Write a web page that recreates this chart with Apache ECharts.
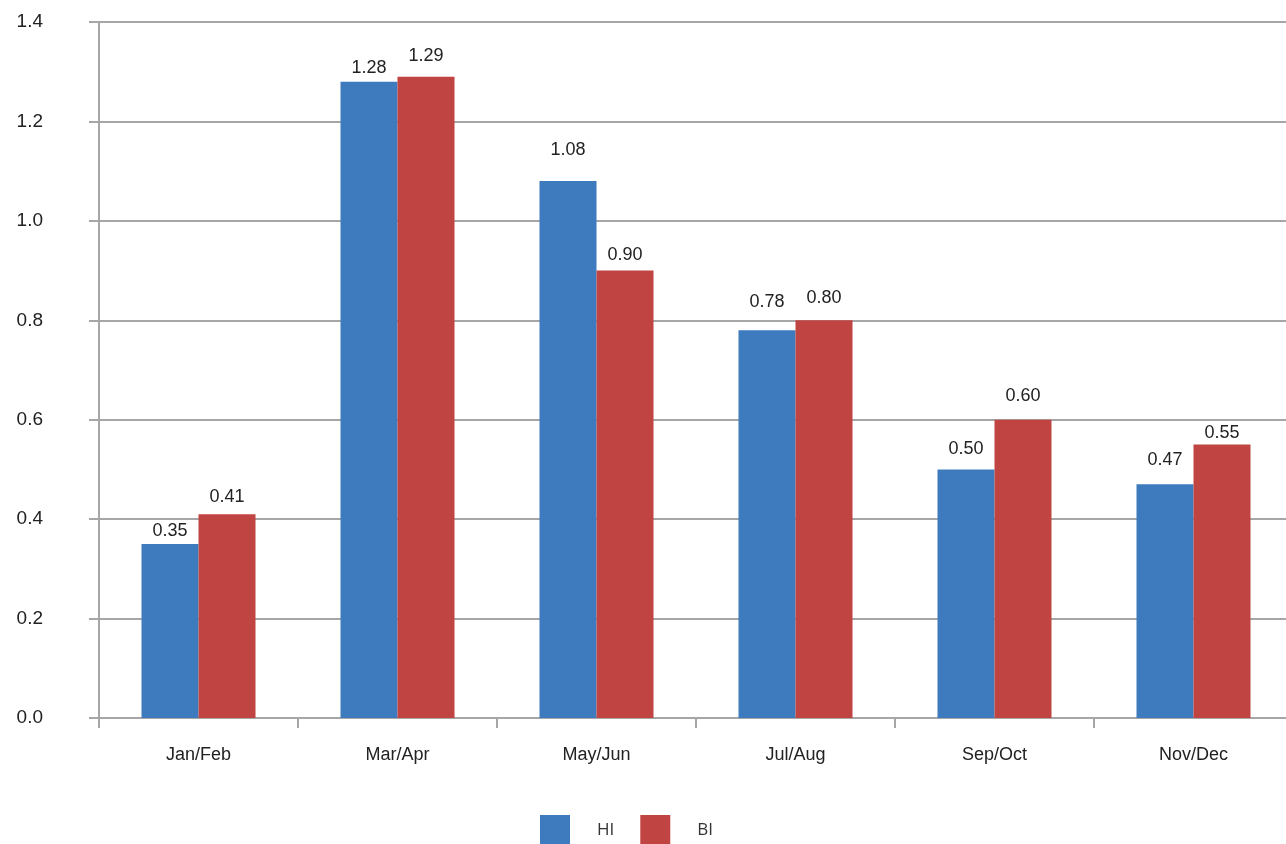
<!DOCTYPE html>
<html>
<head>
<meta charset="utf-8">
<script src="https://cdn.jsdelivr.net/npm/echarts@6/dist/echarts.min.js"></script>
<style>
  html, body { margin: 0; padding: 0; background: #fff; }
  #chart { width: 1286px; height: 844px; }
</style>
</head>
<body>
<div id="chart"></div>
<script>
const categories = ['Jan/Feb', 'Mar/Apr', 'May/Jun', 'Jul/Aug', 'Sep/Oct', 'Nov/Dec']
const hiValues = [0.35, 1.28, 1.08, 0.78, 0.50, 0.47]
const biValues = [0.41, 1.29, 0.90, 0.80, 0.60, 0.55]
// label gap above each bar, as in the picture
const hiLabelGap = [4, 5, 22, 19, 11, 15]
const biLabelGap = [8, 12, 7, 13, 15, 3]

const chart = echarts.init(document.getElementById('chart'))

function withGap(values, gaps) {
  return values.map(function (v, i) {
    return { value: v, label: { distance: gaps[i] } }
  })
}

const barLabel = {
  show: true,
  position: 'top',
  color: '#222',
  fontFamily: 'Liberation Sans',
  fontSize: 18,
  formatter: function (p) { return p.value.toFixed(2) }
}

chart.setOption({
  animation: false,
  textStyle: { fontFamily: 'Liberation Sans' },
  grid: {
    left: 99,
    top: 22,
    right: -7,
    bottom: 126,
    outerBoundsMode: 'none'
  },
  legend: {
    left: 535,
    top: 810,
    icon: 'rect',
    itemWidth: 30,
    itemHeight: 30,
    itemGap: 26,
    textStyle: {
      fontFamily: 'Open Sans',
      fontSize: 17,
      color: '#333',
      padding: [0, 0, 0, 22]
    },
    data: ['HI', 'BI']
  },
  xAxis: {
    type: 'category',
    data: categories,
    axisLine: { lineStyle: { color: '#a6a6a6', width: 2 } },
    axisTick: { show: true, length: 10, lineStyle: { color: '#a6a6a6', width: 2 } },
    axisLabel: { color: '#222', fontSize: 18, margin: 28 }
  },
  yAxis: {
    type: 'value',
    min: 0,
    max: 1.4,
    interval: 0.2,
    axisLine: { show: true, lineStyle: { color: '#a6a6a6', width: 2 } },
    axisTick: { show: true, length: 10, lineStyle: { color: '#a6a6a6', width: 2 } },
    axisLabel: {
      color: '#222',
      fontSize: 19,
      margin: 56,
      formatter: function (v) { return v.toFixed(1) }
    },
    splitLine: { show: true, lineStyle: { color: '#a6a6a6', width: 2 } }
  },
  series: [{
    name: 'HI',
    type: 'bar',
    barWidth: 57,
    barGap: '0%',
    itemStyle: { color: '#3E7BBE' },
    label: barLabel,
    data: withGap(hiValues, hiLabelGap)
  }, {
    name: 'BI',
    type: 'bar',
    barWidth: 57,
    barGap: '0%',
    itemStyle: { color: '#C04542' },
    label: barLabel,
    data: withGap(biValues, biLabelGap)
  }]
})
</script>
</body>
</html>
